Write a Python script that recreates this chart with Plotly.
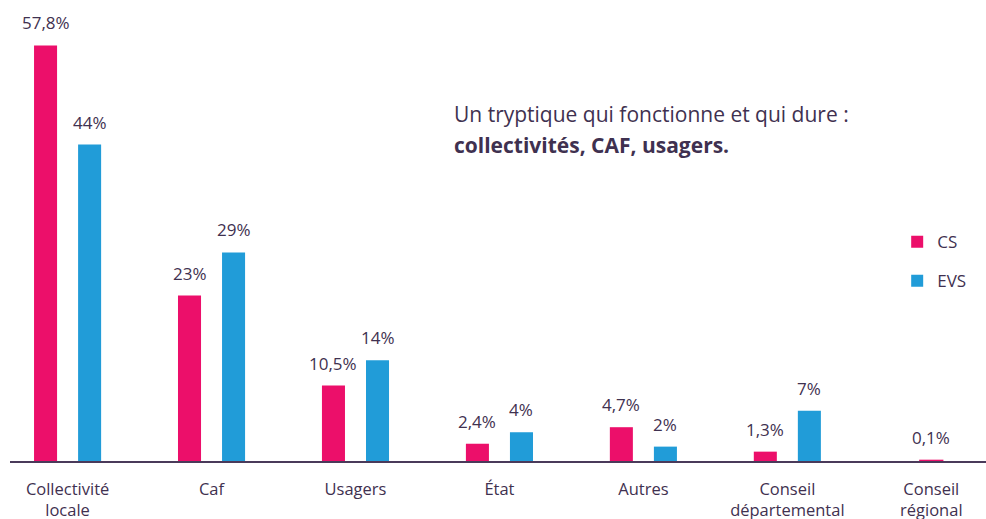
import plotly.graph_objects as go

categories = ["Collectivité<br>locale", "Caf", "Usagers", "État", "Autres",
              "Conseil<br>départemental", "Conseil<br>régional"]
cs_values = [57.8, 23, 10.5, 2.4, 4.7, 1.3, 0.1]
evs_values = [44, 29, 14, 4, 2, 7, None]
cs_labels = ["57,8%", "23%", "10,5%", "2,4%", "4,7%", "1,3%", "0,1%"]
evs_labels = ["44%", "29%", "14%", "4%", "2%", "7%", None]
title_line1 = "Un tryptique qui fonctionne et qui dure :"
title_line2 = "collectivités, CAF, usagers."

PINK = "#EC0F6A"
BLUE = "#219CD8"
TXT = "#3F3150"
FONT = "Open Sans"

idx = list(range(len(categories)))
bw = 0.16
half = 0.153
cs_x = [i - half if evs_values[i] is not None else i for i in idx]
evs_x = [i + half for i in idx]
# thin outline only on very small bars so they stay visible
cs_line_w = [1.2 if v < 0.5 else 0 for v in cs_values]

fig = go.Figure()
fig.add_trace(go.Bar(x=cs_x, y=cs_values, width=bw, name="CS",
                     marker=dict(color=PINK, line=dict(color=PINK, width=cs_line_w)),
                     legendgroup="a"))
fig.add_trace(go.Bar(x=evs_x, y=evs_values, width=bw, name="EVS",
                     marker=dict(color=BLUE, line=dict(width=0)),
                     legendgroup="b"))

anns = []
for xs, vs, ts in ((cs_x, cs_values, cs_labels), (evs_x, evs_values, evs_labels)):
    for x, v, t in zip(xs, vs, ts):
        if v is None:
            continue
        anns.append(dict(x=x, y=v, text=t, showarrow=False, yanchor="bottom",
                         yshift=9, font=dict(size=17, color=TXT, family=FONT)))

anns.append(dict(xref="paper", yref="paper", x=0.453, y=0.766, xanchor="left",
                 yanchor="middle", align="left", showarrow=False,
                 text=title_line1,
                 font=dict(size=21, color=TXT, family=FONT)))
anns.append(dict(xref="paper", yref="paper", x=0.453, y=0.698, xanchor="left",
                 yanchor="middle", align="left", showarrow=False,
                 text="<b>" + title_line2 + "</b>",
                 font=dict(size=21, color=TXT, family=FONT)))

fig.update_layout(
    width=986, height=519,
    margin=dict(l=10, r=0, t=8, b=58, autoexpand=False),
    paper_bgcolor="white", plot_bgcolor="white",
    barmode="overlay",
    annotations=anns,
    showlegend=True,
    legend=dict(x=0.909, y=0.523, xanchor="left", yanchor="top",
                font=dict(size=17, color=TXT, family=FONT),
                tracegroupgap=14, traceorder="grouped",
                itemwidth=30, bgcolor="rgba(0,0,0,0)"),
    xaxis=dict(range=[-0.4, 6.38], tickmode="array", tickvals=idx,
               ticktext=categories, showgrid=False, zeroline=False,
               showline=True, linecolor="#4A3A5A", linewidth=1.5,
               ticks="", ticklabelstandoff=12, automargin=False,
               tickfont=dict(size=16.5, color=TXT, family=FONT)),
    yaxis=dict(range=[0, 63], visible=False, showgrid=False, zeroline=False,
               automargin=False),
)

fig.write_html("out.html", config={"displayModeBar": False},
               post_script="document.body.style.margin='0';")
